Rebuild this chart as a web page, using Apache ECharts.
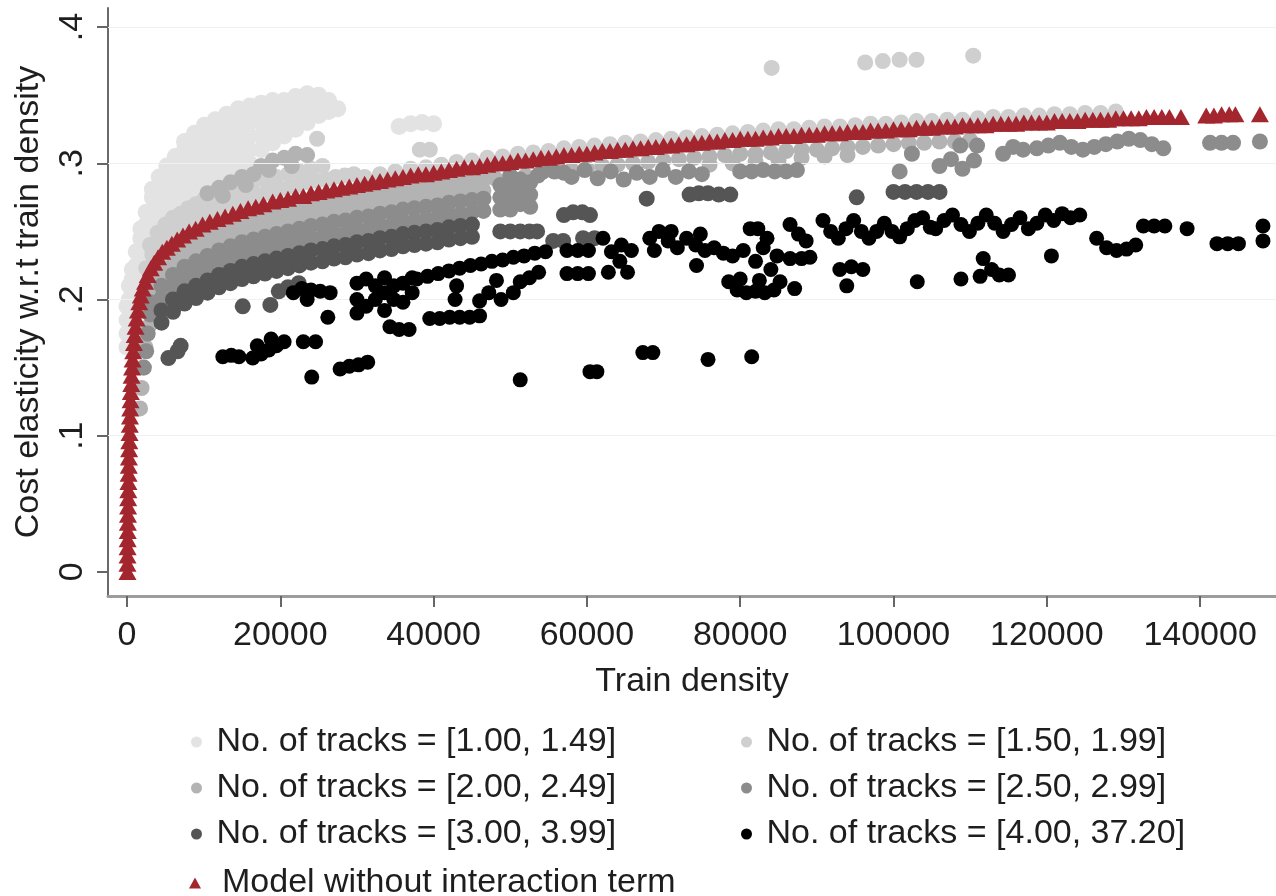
<!DOCTYPE html>
<html>
<head>
<meta charset="utf-8">
<script src="https://cdn.jsdelivr.net/npm/echarts@6/dist/echarts.min.js"></script>
<style>
  html, body { margin: 0; padding: 0; background: #fff; }
  #chart { width: 1276px; height: 896px; }
</style>
</head>
<body>
<div id="chart"></div>
<script>
// Axis ticks
const xTickValues = [0, 20000, 40000, 60000, 80000, 100000, 120000, 140000];
const xTickLabels = ['0', '20000', '40000', '60000', '80000', '100000', '120000', '140000'];
const yTickValues = [0, 0.1, 0.2, 0.3, 0.4];
const yTickLabels = ['0', '.1', '.2', '.3', '.4'];

// Group names
const groupNames = [
  'No. of tracks = [1.00, 1.49]',
  'No. of tracks = [1.50, 1.99]',
  'No. of tracks = [2.00, 2.49]',
  'No. of tracks = [2.50, 2.99]',
  'No. of tracks = [3.00, 3.99]',
  'No. of tracks = [4.00, 37.20]'
];
const modelName = 'Model without interaction term';

// [train density, cost elasticity]
const tracks100to149 = [
  [0,0.165],[0,0.175],[0,0.185],[0,0.195],
  [300,0.2],[300,0.21],
  [700,0.205],[700,0.215],[700,0.222],
  [1200,0.215],[1200,0.225],[1200,0.235],
  [1800,0.225],[1800,0.235],[1800,0.245],[1800,0.252],
  [2500,0.235],[2500,0.245],[2500,0.255],[2500,0.264],
  [3300,0.245],[3300,0.255],[3300,0.265],[3300,0.275],[3300,0.281],
  [4200,0.255],[4200,0.265],[4200,0.275],[4200,0.284],[4200,0.29],
  [5200,0.26],[5200,0.27],[5200,0.28],[5200,0.29],[5200,0.298],
  [6300,0.265],[6300,0.275],[6300,0.285],[6300,0.295],[6300,0.305],
  [7500,0.27],[7500,0.28],[7500,0.29],[7500,0.3],[7500,0.31],[7500,0.316],
  [8800,0.275],[8800,0.285],[8800,0.295],[8800,0.305],[8800,0.315],[8800,0.322],
  [10100,0.28],[10100,0.29],[10100,0.3],[10100,0.31],[10100,0.32],[10100,0.328],
  [11500,0.285],[11500,0.295],[11500,0.305],[11500,0.315],[11500,0.325],[11500,0.332],
  [13000,0.29],[13000,0.3],[13000,0.31],[13000,0.32],[13000,0.33],[13000,0.336],
  [14500,0.295],[14500,0.305],[14500,0.315],[14500,0.325],[14500,0.333],[14500,0.34],
  [16000,0.3],[16000,0.31],[16000,0.32],[16000,0.33],[16000,0.338],[16000,0.342],
  [17500,0.31],[17500,0.32],[17500,0.33],[17500,0.338],[17500,0.344],
  [19000,0.315],[19000,0.325],[19000,0.335],[19000,0.342],[19000,0.346],
  [20500,0.32],[20500,0.33],[20500,0.338],[20500,0.346],
  [22000,0.325],[22000,0.335],[22000,0.342],[22000,0.349],
  [23500,0.33],[23500,0.34],[23500,0.348],[23500,0.351],
  [25000,0.335],[25000,0.343],[25000,0.35],
  [26300,0.338],[26300,0.346],
  [27500,0.34],
  [35500,0.327],[37000,0.329],[38500,0.33],[40000,0.329]
];

const tracks150to199 = [
  [2500,0.223],[3300,0.233],[4200,0.24],[5100,0.245],[6000,0.25],[7000,0.253],[8000,0.257],[9000,0.26],
  [10000,0.263],[11000,0.265],[12000,0.267],[13000,0.27],[14000,0.271],[15000,0.273],[16000,0.275],
  [17000,0.276],[18000,0.278],[19000,0.28],[20000,0.281],[21200,0.283],[22400,0.284],[23600,0.286],
  [24800,0.287],[26000,0.288],[27200,0.29],[28400,0.291],[29600,0.292],
  [3000,0.24],[4000,0.249],[5000,0.255],[6000,0.26],[7000,0.263],[8000,0.267],[9000,0.27],[10000,0.273],
  [11000,0.275],[12000,0.277],[13000,0.28],[14000,0.281],[15000,0.283],[16500,0.286],[18000,0.288],
  [19500,0.29],[21000,0.292],[22500,0.294],[24000,0.296],[25500,0.298],
  [31000,0.29],[33000,0.292],[35000,0.294],[37000,0.296],[39000,0.297],[41000,0.299],[43000,0.301],
  [45000,0.302],[47000,0.304],[49000,0.305],[51000,0.307],[53000,0.308],[55000,0.309],[57000,0.311],
  [59000,0.312],[61000,0.313],[63000,0.314],[65000,0.315],[67000,0.316],[69000,0.317],[71000,0.318],
  [73000,0.319],[75000,0.32],[77000,0.321],[79000,0.322],[81000,0.323],[83000,0.324],[85000,0.325],
  [87000,0.325],[89000,0.326],[91000,0.327],[93000,0.327],[95000,0.328],[97000,0.329],[99000,0.329],
  [101000,0.33],[103000,0.331],[105000,0.331],[107000,0.332],[109000,0.332],[111000,0.333],
  [113000,0.334],[115000,0.334],[117000,0.335],[119000,0.335],[121000,0.336],[123000,0.336],
  [125000,0.337],[127000,0.337],[129000,0.338],
  [24800,0.318],[38200,0.31],[39500,0.31],
  [84100,0.37],[96300,0.374],[98600,0.375],[100800,0.376],[103000,0.376],[110400,0.379]
];

const tracks200to249 = [
  [1700,0.12],[1900,0.135],[2100,0.15],[2400,0.165],[2800,0.18],[3300,0.192],
  [3000,0.212],[3000,0.204],[4500,0.224],[4500,0.216],[6000,0.232],[6000,0.224],[7500,0.238],[7500,0.23],
  [9000,0.242],[9000,0.234],[10500,0.246],[10500,0.238],[12000,0.25],[12000,0.242],[13500,0.253],[13500,0.245],
  [15000,0.256],[15000,0.248],[16500,0.258],[16500,0.25],[18000,0.26],[18000,0.252],[19500,0.262],[19500,0.254],
  [21000,0.264],[21000,0.256],[22500,0.266],[22500,0.258],[24000,0.268],[24000,0.26],[25500,0.269],[25500,0.261],
  [27000,0.271],[27000,0.263],[28500,0.272],[28500,0.264],[30000,0.274],[30000,0.266],[31500,0.275],[31500,0.267],
  [33000,0.277],[33000,0.269],[34500,0.278],[34500,0.27],[36000,0.28],[36000,0.272],[37500,0.281],[37500,0.273],
  [39000,0.282],[39000,0.274],[40500,0.283],[40500,0.275],[42000,0.285],[42000,0.277],[43500,0.286],[43500,0.278],
  [45000,0.287],[45000,0.279],[46500,0.288],[46500,0.28],
  [48000,0.289],[50000,0.29],[52000,0.291],[54000,0.293],[56000,0.294],[58000,0.295],[60000,0.296],
  [62000,0.298],[64000,0.299],[66000,0.3],[68000,0.301],[70000,0.302],[72000,0.303],[74000,0.304],
  [76000,0.305],[78000,0.306],[80000,0.307],[82000,0.307],[84000,0.308],[86000,0.309],[88000,0.31],
  [90000,0.31],[92000,0.311],[94000,0.312],[96000,0.312],[98000,0.313],[100000,0.314],[102000,0.315],
  [104000,0.315],[106000,0.316],[108000,0.316],[110000,0.317],
  [76000,0.299],[79000,0.3],[82000,0.301],[85000,0.302],[88000,0.304],[91000,0.305],[94000,0.306],
  [10500,0.278],[12000,0.282],[12500,0.276],[13500,0.286],[15000,0.29],[15500,0.284],[16500,0.292],
  [17500,0.298],[18500,0.295],[19000,0.302],[20500,0.304],[21500,0.298],[22000,0.307],[23500,0.306]
];

const tracks250to299 = [
  [2200,0.15],[2500,0.162],[2700,0.175],
  [3000,0.198],[3000,0.189],[4500,0.21],[4500,0.201],[6000,0.218],[6000,0.209],[7500,0.224],[7500,0.215],
  [9000,0.228],[9000,0.219],[10500,0.232],[10500,0.223],[12000,0.236],[12000,0.227],[13500,0.239],[13500,0.23],
  [15000,0.242],[15000,0.233],[16500,0.244],[16500,0.235],[18000,0.246],[18000,0.237],[19500,0.248],[19500,0.239],
  [21000,0.25],[21000,0.241],[22500,0.252],[22500,0.243],[24000,0.254],[24000,0.245],[25500,0.255],[25500,0.246],
  [27000,0.257],[27000,0.248],[28500,0.258],[28500,0.249],[30000,0.26],[30000,0.251],[31500,0.261],[31500,0.252],
  [33000,0.263],[33000,0.254],[34500,0.264],[34500,0.255],[36000,0.266],[36000,0.257],[37500,0.267],[37500,0.258],
  [39000,0.268],[39000,0.259],[40500,0.269],[40500,0.26],[42000,0.271],[42000,0.262],[43500,0.272],[43500,0.263],
  [45000,0.273],[45000,0.264],[46500,0.274],[46500,0.265],
  [48700,0.266],[48700,0.275],[48700,0.284],[50000,0.266],[50000,0.275],[50000,0.284],[50000,0.291],
  [51300,0.27],[51300,0.279],[51300,0.288],[52600,0.268],[52600,0.277],[52600,0.286],[53600,0.291],
  [54300,0.294],[55700,0.294],[57000,0.293],[58000,0.29],[59700,0.295],[61400,0.289],[63100,0.294],
  [64800,0.288],[66500,0.293],[68200,0.29],[69900,0.295],[71600,0.29],[73300,0.294],[75000,0.292],
  [80000,0.294],[81500,0.294],[83000,0.295],[84500,0.294],[86000,0.294],[87400,0.295],
  [100800,0.294],[102400,0.307],[106000,0.298],[107500,0.303],[109000,0.296],[110500,0.302],
  [108700,0.313],[110900,0.313],[114300,0.307],[115600,0.312],[116900,0.31],[118700,0.311],
  [120200,0.313],[121700,0.315],[123200,0.312],[124700,0.31],[126200,0.312],[127700,0.314],
  [129200,0.316],[130700,0.318],[132200,0.317],[133700,0.314],[135200,0.311],
  [141300,0.315],[142800,0.315],[144300,0.315],[147800,0.316]
];

const tracks300to399 = [
  [4500,0.192],[4500,0.183],[6000,0.2],[6000,0.191],[7500,0.206],[7500,0.197],[9000,0.21],[9000,0.201],
  [10500,0.214],[10500,0.205],[12000,0.218],[12000,0.209],[13500,0.221],[13500,0.212],[15000,0.224],[15000,0.215],
  [16500,0.226],[16500,0.217],[18000,0.228],[18000,0.219],[19500,0.23],[19500,0.221],[21000,0.232],[21000,0.223],
  [22500,0.234],[22500,0.225],[24000,0.236],[24000,0.227],[25500,0.237],[25500,0.228],[27000,0.239],[27000,0.23],
  [28500,0.24],[28500,0.231],[30000,0.242],[30000,0.233],[31500,0.243],[31500,0.234],[33000,0.245],[33000,0.236],
  [34500,0.246],[34500,0.237],[36000,0.248],[36000,0.239],[37500,0.249],[37500,0.24],[39000,0.25],[39000,0.241],
  [40500,0.251],[40500,0.242],[42000,0.253],[42000,0.244],[43500,0.254],[43500,0.245],[45000,0.255],[45000,0.246],
  [5400,0.157],[6600,0.162],[7000,0.166],[15100,0.195],[18700,0.196],[19800,0.206],[21000,0.209],[22400,0.212],
  [48700,0.25],[50000,0.25],[51300,0.25],[52500,0.25],[53500,0.25],[55600,0.243],[56900,0.243],
  [57000,0.262],[58200,0.264],[59400,0.264],[60400,0.262],[59500,0.245],[61000,0.245],[67800,0.274],
  [73400,0.277],[74600,0.278],[75800,0.278],[77200,0.277],[78700,0.277],[95200,0.275],
  [100000,0.279],[101500,0.279],[103000,0.279],[104500,0.279],[106000,0.279]
];

const tracks400to3720 = [
  [12500,0.158],[13600,0.159],[14600,0.158],
  [16400,0.157],[17500,0.16],[18500,0.163],[19500,0.166],[20500,0.169],[17000,0.166],[18800,0.171],
  [23000,0.169],[24600,0.169],[24100,0.143],
  [27800,0.149],[29000,0.151],[30200,0.152],[31400,0.154],
  [21700,0.205],[22800,0.208],[24000,0.207],[25200,0.206],[26500,0.205],[23500,0.2],[26200,0.187],
  [30000,0.19],[30000,0.2],[30000,0.212],[31200,0.195],[31200,0.215],[32400,0.2],[32400,0.21],
  [33600,0.192],[33600,0.205],[33600,0.216],[34800,0.2],[34800,0.21],[36000,0.198],[36000,0.212],
  [37200,0.205],[37200,0.216],
  [37800,0.215],[39200,0.217],[40600,0.219],[42000,0.221],[43400,0.223],[44800,0.225],[46200,0.226],
  [47600,0.228],[49000,0.229],[50400,0.231],[51800,0.232],[53200,0.234],[54600,0.235],
  [34300,0.18],[35500,0.178],[36800,0.178],
  [39500,0.186],[40800,0.186],[42100,0.187],[43400,0.187],[44700,0.187],[46000,0.188],
  [42800,0.2],[43000,0.21],[46000,0.199],[47200,0.205],[48200,0.214],[48800,0.2],
  [50400,0.205],[51300,0.213],[52500,0.216],[53700,0.22],
  [51300,0.141],[60400,0.147],[61300,0.147],
  [57400,0.236],[58800,0.236],[60200,0.236],[57400,0.219],[58800,0.219],[60200,0.219],
  [62100,0.245],[63200,0.235],[64300,0.228],[65300,0.22],[62800,0.22],[64500,0.24],[65800,0.236],
  [67300,0.161],
  [68200,0.245],[69400,0.25],[70600,0.243],[71800,0.238],[73000,0.245],[74200,0.24],[75400,0.236],
  [76600,0.238],[77800,0.234],[79000,0.232],[68800,0.236],[71000,0.25],[74800,0.248],[80400,0.236],
  [81300,0.252],[82300,0.252],[74300,0.225],
  [78500,0.213],[79600,0.207],[80800,0.205],[82000,0.206],[83200,0.205],[84400,0.207],[80000,0.215],
  [82500,0.214],[85200,0.213],
  [82000,0.228],[83000,0.238],[84000,0.222],[84800,0.232],[83500,0.245],
  [86500,0.255],[87600,0.248],[88600,0.243],[86500,0.23],[88000,0.23],[89100,0.231],[87100,0.208],
  [90800,0.258],[91800,0.25],[92800,0.245],[93800,0.252],[94800,0.258],[95800,0.25],[96800,0.245],
  [97800,0.25],[98800,0.256],[99800,0.25],[100800,0.246],[101800,0.252],[102800,0.258],[103800,0.26],
  [104800,0.253],
  [93000,0.222],[94500,0.224],[96000,0.222],[93900,0.21],[103100,0.213],[108800,0.215],
  [111300,0.217],[111700,0.23],[112800,0.222],[113800,0.218],[115000,0.218],
  [105500,0.252],[106600,0.258],[107700,0.262],[108800,0.255],[109900,0.25],[111000,0.256],[112100,0.262],
  [113200,0.256],[114300,0.25],[115400,0.255],[116500,0.26],[117600,0.252],[118700,0.256],[119800,0.262],
  [120900,0.258],[122000,0.263],[123100,0.26],[124300,0.262],
  [120600,0.232],
  [126500,0.245],[127800,0.238],[129100,0.236],[130400,0.237],[131600,0.24],
  [132600,0.254],[134000,0.254],[135400,0.254],[138300,0.252],
  [142200,0.241],[143600,0.241],[145000,0.241],[148200,0.243],[148200,0.254],
  [68600,0.161],[75800,0.156],[81500,0.158]
];

const modelPredicted = [
  [60,0.0],[60,0.006],[70,0.012],[80,0.018],[90,0.024],[100,0.03],[110,0.036],[125,0.042],[140,0.048],
  [155,0.054],[170,0.06],[190,0.066],[210,0.072],[230,0.078],[250,0.084],[275,0.09],[300,0.096],
  [330,0.102],[360,0.108],[390,0.114],[420,0.12],[460,0.126],[500,0.132],[550,0.138],[600,0.144],
  [660,0.15],[730,0.156],[810,0.162],[900,0.168],[1000,0.174],[1120,0.18],[1260,0.186],[1420,0.192],
  [1600,0.198],[1800,0.203],[2050,0.208],[2350,0.213],[2700,0.218],[3100,0.223],[3550,0.227],
  [4050,0.231],[4600,0.235],[5200,0.238],[5850,0.241],[6550,0.244],[7300,0.247],[8100,0.25],
  [8950,0.252],[9850,0.255],[10800,0.257],[11800,0.259],[12800,0.261],[13800,0.263],[14800,0.265],
  [15800,0.267],[16800,0.268],[17800,0.27],
  [19000,0.272],[20000,0.273],[21000,0.274],[22000,0.276],[23000,0.276],[24000,0.278],[25000,0.279],
  [26000,0.28],[27000,0.281],[28000,0.282],[29000,0.283],[30000,0.284],[31000,0.285],[32000,0.286],
  [33000,0.287],[34000,0.288],[35000,0.289],[36000,0.29],[37000,0.291],[38000,0.292],[39000,0.292],
  [40000,0.293],[41000,0.294],[42000,0.295],[43000,0.296],[44000,0.297],[45000,0.297],[46000,0.298],
  [47000,0.299],[48000,0.3],[49000,0.3],[50000,0.301],[51000,0.302],[52000,0.302],[53000,0.303],
  [54000,0.304],[55000,0.304],[56000,0.305],[57000,0.306],[58000,0.306],[59000,0.307],[60000,0.307],
  [61000,0.308],[62000,0.309],[63000,0.309],[64000,0.31],[65000,0.31],[66000,0.311],[67000,0.311],
  [68000,0.312],[69000,0.312],[70000,0.313],[71000,0.313],[72000,0.314],[73000,0.314],[74000,0.315],
  [75000,0.315],[76000,0.316],[77000,0.316],[78000,0.317],[79000,0.317],[80000,0.318],[81000,0.318],
  [82000,0.318],[83000,0.319],[84000,0.319],[85000,0.32],[86000,0.32],[87000,0.32],[88000,0.321],
  [89000,0.321],[90000,0.321],[91000,0.322],[92000,0.322],[93000,0.322],[94000,0.323],[95000,0.323],
  [96000,0.323],[97000,0.324],[98000,0.324],[99000,0.324],[100000,0.325],[101000,0.325],[102000,0.325],
  [103000,0.326],[104000,0.326],[105000,0.326],[106000,0.327],[107000,0.327],[108000,0.327],
  [109000,0.328],[110000,0.328],[111000,0.328],[112000,0.328],[113000,0.329],[114000,0.329],
  [115000,0.329],[116000,0.329],[117000,0.33],[118000,0.33],[119000,0.33],[120000,0.33],[121000,0.331],
  [122000,0.331],[123000,0.331],[124000,0.331],[125000,0.332],[126000,0.332],[127000,0.332],
  [128000,0.332],[129000,0.333],[130000,0.333],[131000,0.333],[132000,0.333],[133000,0.334],
  [134000,0.334],[135000,0.334],[136000,0.334],[137500,0.334],
  [140800,0.335],[141800,0.335],[142800,0.336],[143800,0.336],[144600,0.336],[147800,0.336]
];

const groupData = [tracks100to149, tracks150to199, tracks200to249, tracks250to299, tracks300to399, tracks400to3720];
const groupColors = ['#e3e3e3', '#cfcfcf', '#b3b3b3', '#8c8c8c', '#555555', '#000000'];
const groupSizes = [17, 16, 16, 16, 16, 15];
const modelColor = '#a3262e';

const FONT = '"Liberation Sans", Arial, Helvetica, sans-serif';
const TEXT = '#1e1e1e';

const series = [{
  // faint horizontal grid lines
  type: 'scatter',
  data: [],
  silent: true,
  z: 0,
  markLine: {
    silent: true,
    symbol: 'none',
    label: { show: false },
    lineStyle: { color: '#eef1f1', width: 1, type: 'solid' },
    data: yTickValues.slice(1).map(v => ({ yAxis: v }))
  }
}];

groupData.forEach((d, i) => {
  series.push({
    name: groupNames[i],
    type: 'scatter',
    data: d,
    symbol: 'circle',
    symbolSize: groupSizes[i],
    itemStyle: { color: groupColors[i], opacity: 1 },
    z: 2 + i
  });
});

series.push({
  name: modelName,
  type: 'scatter',
  data: modelPredicted,
  symbol: 'triangle',
  symbolSize: [18, 16],
  itemStyle: { color: modelColor, opacity: 1 },
  z: 10
});

const LEGEND_TOP = 720;
const LEGEND_ROW = 45.7;
const legendCommon = {
  orient: 'vertical',
  itemWidth: 30,
  itemHeight: 11,
  itemGap: 12,
  selectedMode: false,
  textStyle: { fontSize: 34, color: TEXT, fontFamily: FONT }
};

const chart = echarts.init(document.getElementById('chart'), null, { renderer: 'canvas' });
chart.setOption({
  animation: false,
  backgroundColor: '#ffffff',
  textStyle: { fontFamily: FONT },
  grid: { left: 108, right: 0, top: 8, bottom: 300, containLabel: false, outerBoundsMode: 'none' },
  xAxis: {
    type: 'value',
    min: -2480,
    max: 149900,
    name: 'Train density',
    nameLocation: 'middle',
    nameGap: 69,
    nameTextStyle: { fontSize: 34, color: TEXT, fontFamily: FONT },
    axisLine: { show: true, onZero: false, lineStyle: { color: '#9c9c9c', width: 3 } },
    axisTick: { show: true, customValues: xTickValues, length: 11, lineStyle: { color: '#666', width: 2 } },
    axisLabel: {
      customValues: xTickValues,
      formatter: v => xTickLabels[xTickValues.indexOf(v)],
      fontSize: 34, color: TEXT, fontFamily: FONT, margin: 23
    },
    splitLine: { show: false }
  },
  yAxis: {
    type: 'value',
    min: -0.0177,
    max: 0.414,
    name: 'Cost elasticity w.r.t train density',
    nameLocation: 'middle',
    nameGap: 62,
    nameTextStyle: { fontSize: 34, color: TEXT, fontFamily: FONT },
    axisLine: { show: true, onZero: false, lineStyle: { color: '#6a6a6a', width: 2 } },
    axisTick: { show: true, customValues: yTickValues, length: 11, lineStyle: { color: '#666', width: 2 } },
    axisLabel: {
      customValues: yTickValues,
      formatter: v => yTickLabels[yTickValues.indexOf(v)],
      rotate: 90,
      fontSize: 34, color: TEXT, fontFamily: FONT, margin: 18
    },
    splitLine: { show: false }
  },
  legend: [
    Object.assign({ left: 186, top: LEGEND_TOP, data: [groupNames[0], groupNames[2], groupNames[4]] }, legendCommon),
    Object.assign({ left: 736, top: LEGEND_TOP, data: [groupNames[1], groupNames[3], groupNames[5]] }, legendCommon),
    Object.assign({}, legendCommon, {
      left: 184, top: LEGEND_TOP + 3 * LEGEND_ROW + 4, data: [modelName],
      itemWidth: 12, itemHeight: 11,
      textStyle: { fontSize: 34, color: TEXT, fontFamily: FONT, padding: [0, 0, 0, 16] }
    })
  ],
  series: series
});
</script>
</body>
</html>
